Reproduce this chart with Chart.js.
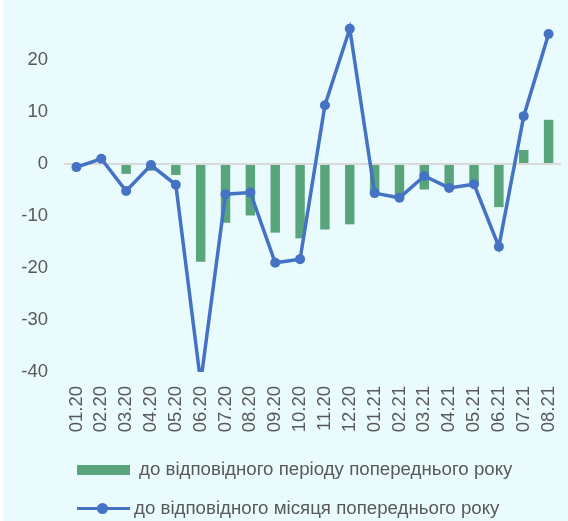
<!DOCTYPE html>
<html>
<head>
<meta charset="utf-8">
<script src="https://cdn.jsdelivr.net/npm/chart.js@4/dist/chart.umd.min.js"></script>
<style>
  html, body { margin: 0; padding: 0; background: #ffffff; }
  #wrap { position: absolute; left: 3px; top: 0; width: 565px; height: 521px; background: #E9FBFD; }
  #c { position: absolute; left: 0; top: 0; }
  .leg { position: absolute; font-family: "Liberation Sans", Arial, sans-serif; font-size: 18.7px; color: #595959; white-space: nowrap; line-height: 20px; }
  .sw { position: absolute; }
</style>
</head>
<body>
<div id="wrap">
  <canvas id="c" width="565" height="521"></canvas>
  <div class="sw" style="left:74px; top:465px; width:53px; height:10px; background:#59A57B;"></div>
  <div class="leg" style="left:136px; top:459px;">до відповідного періоду попереднього року</div>
  <div class="sw" style="left:74px; top:507px; width:53px; height:3px; background:#4472C4;"></div>
  <div class="sw" style="left:94px; top:503px; width:11px; height:11px; border-radius:50%; background:#4472C4;"></div>
  <div class="leg" style="left:131px; top:498px;">до відповідного місяця попереднього року</div>
</div>
<script>
const categories = ["01.20","02.20","03.20","04.20","05.20","06.20","07.20","08.20","09.20","10.20","11.20","12.20","01.21","02.21","03.21","04.21","05.21","06.21","07.21","08.21"];
const periodValues = [0, 0, -1.9, -1.3, -2.1, -18.8, -11.3, -9.9, -13.2, -14.3, -12.6, -11.6, -5.5, -6.1, -4.9, -4.2, -3.8, -8.3, 2.7, 8.5];
const monthValues = [-0.6, 1.0, -5.2, -0.2, -4.0, -42, -5.8, -5.5, -19.0, -18.3, 11.3, 26.0, -5.6, -6.5, -2.3, -4.6, -3.9, -15.9, 9.2, 25.0];
const yTicks = [-40, -30, -20, -10, 0, 10, 20, 30];
const seriesNames = ["до відповідного місяця попереднього року", "до відповідного періоду попереднього року"];

const FONT = { family: "'Liberation Sans', Arial, sans-serif", size: 18.5 };

new Chart(document.getElementById('c'), {
  data: {
    labels: categories,
    datasets: [
      {
        type: 'line',
        label: seriesNames[0],
        data: monthValues,
        borderColor: '#4472C4',
        backgroundColor: '#4472C4',
        borderWidth: 3.5,
        pointRadius: 5,
        pointHoverRadius: 5,
        pointBackgroundColor: '#4472C4',
        pointBorderWidth: 0,
        tension: 0,
        clip: 0,
        order: 1
      },
      {
        type: 'bar',
        label: seriesNames[1],
        data: periodValues,
        backgroundColor: '#59A57B',
        borderWidth: 0,
        categoryPercentage: 1,
        barPercentage: 0.38,
        order: 2
      }
    ]
  },
  options: {
    responsive: false,
    animation: false,
    layout: { padding: { top: 8, right: 7, left: 0, bottom: 0 } },
    plugins: { legend: { display: false }, tooltip: { enabled: false } },
    scales: {
      x: {
        grid: { display: false },
        border: { display: false },
        ticks: {
          autoSkip: false, minRotation: 90, maxRotation: 90,
          padding: 6, color: '#595959', font: FONT
        },
        afterFit: (s) => { s.height = 149; s.paddingLeft = 0; s.paddingRight = 0; }
      },
      y: {
        min: yTicks[0],
        max: yTicks[yTicks.length - 1],
        afterBuildTicks: (s) => { s.ticks = yTicks.map(v => ({ value: v })); },
        grid: {
          drawTicks: false,
          color: (ctx) => ctx.tick && ctx.tick.value === 0 ? '#D9D9D9' : 'rgba(0,0,0,0)',
          lineWidth: (ctx) => ctx.tick && ctx.tick.value === 0 ? 2 : 0
        },
        border: { display: false },
        ticks: {
          padding: 16, color: '#595959', font: FONT,
          callback: (v) => v === 30 ? null : String(v)
        },
        afterFit: (s) => { s.width = 61; s.paddingTop = 0; s.paddingBottom = 0; }
      }
    }
  }
});
</script>
</body>
</html>
